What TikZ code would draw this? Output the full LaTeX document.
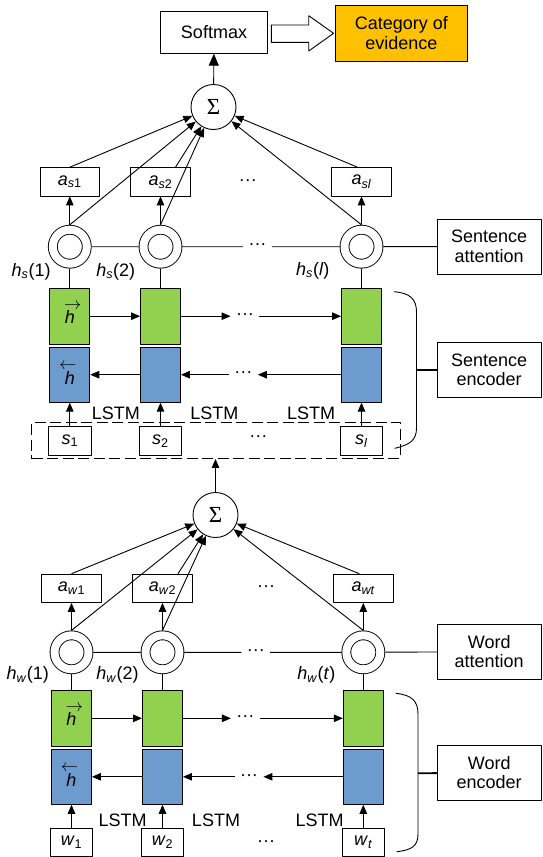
\documentclass[tikz,border=0pt]{standalone}
\usepackage{fontspec}
\setmainfont{Liberation Sans}
\newfontfamily\sumfont{Liberation Serif}
\usetikzlibrary{arrows.meta}
\definecolor{fwdgreen}{RGB}{146,208,80}
\definecolor{bwdblue}{RGB}{110,155,206}
\definecolor{catorange}{RGB}{255,192,0}
\newcommand{\threedots}{\textperiodcentered\textperiodcentered\textperiodcentered}
\newcommand{\fwdh}{\makebox[0pt]{\hspace{6pt}$\rightarrow$}\\[-5pt]\textit{h}}
\newcommand{\bwdh}{\makebox[0pt]{$\leftarrow$\hspace{4pt}}\\[-5pt]\textit{h}}

\begin{document}
\begin{tikzpicture}[x=1pt, y=-1pt, line width=0.9pt, line join=round,
  >={Triangle[length=9pt,width=7.5pt]},
  font=\fontsize{18}{19.5}\selectfont,
  txtbox/.style={draw, align=center, inner sep=0pt, minimum width=104pt, minimum height=55pt},
  abox/.style={draw, inner sep=0pt, minimum width=59.5pt, minimum height=28.3pt},
  inbox/.style={draw, inner sep=0pt, minimum width=42.5pt, minimum height=28.3pt},
  fwdcell/.style={draw, fill=fwdgreen, inner sep=0pt, minimum width=40pt, minimum height=55.5pt, align=center, text depth=6pt},
  bwdcell/.style={draw, fill=bwdblue, inner sep=0pt, minimum width=40pt, minimum height=55pt, align=center, text depth=2pt},
  attn/.style={circle, draw, double, double distance=8pt, inner sep=0pt, minimum size=34pt, outer sep=4.9pt},
  sumnode/.style={circle, draw, inner sep=0pt, minimum size=45pt, font=\sumfont\fontsize{23}{23}\selectfont},
  gap/.style={inner xsep=5pt, inner ysep=0pt, text height=0.64em, text depth=0pt}]

\useasboundingbox (0,0) rectangle (542,857);

% output
\node[draw, inner sep=0pt, minimum width=106.5pt, minimum height=41.5pt] (soft) at (214,32.5) {Softmax};
\node[draw, fill=catorange, align=center, inner sep=0pt, minimum width=132pt, minimum height=55.3pt] (cat) at (401.3,33.3) {Category of\\evidence};
\draw (271.3,25) -- (308.7,25) -- (308.7,15.7) -- (333.6,33.3) -- (308.7,51) -- (308.7,42.3) -- (271.3,42.3) -- cycle;

% sentence level
\node[sumnode] (sig1) at (213.5,107) {Σ};
\draw[-{Triangle[length=12pt,width=10pt]}] (sig1) -- (soft);

\node[abox] (as1) at (69.8,181.8) {\textit{a}\textsubscript{\textit{s}1}};
\node[abox] (as2) at (160.5,181.8) {\textit{a}\textsubscript{\textit{s}2}};
\node[gap] (asd) at (247.8,181.8) {\threedots};
\node[abox] (asl) at (361.5,181.8) {\textit{a}\textsubscript{\textit{sl}}};

\node[attn] (hs1) at (69.8,246.7) {};
\node[attn] (hs2) at (160.5,246.7) {};
\node[gap] (hsd) at (257.5,246.7) {\threedots};
\node[attn] (hsl) at (361.5,246.7) {};
\node[txtbox] (satt) at (489.2,246.5) {Sentence\\attention};
\draw (hs1) -- (hs2) -- (hsd) -- (hsl) -- (satt);

\draw[->] (hs1.north) -- (as1);
\draw[->] (hs2.north) -- (as2);
\draw[->] (hsl.north) -- (asl);
\draw[->] (as1.north) -- (sig1);
\draw[->] ([xshift=15pt]as2.north) -- (sig1);
\draw[->] ([xshift=-4pt]asl.north) -- (sig1);
\draw[->] (hs1.north) -- (sig1);
\draw[->] (hs2.north) -- (sig1);
\draw[->] (hsl.north) -- (sig1);

\node (ths1) at (31.1,271.7) {\textit{h}\textsubscript{\textit{s}}(1)};
\node (ths2) at (115.8,271.7) {\textit{h}\textsubscript{\textit{s}}(2)};
\node (thsl) at (312.8,270.7) {\textit{h}\textsubscript{\textit{s}}(\textit{l})};

\node[fwdcell] (fs1) at (69.8,316.2) {\fwdh};
\node[fwdcell] (fs2) at (160.5,316.2) {};
\node[gap] (fsd) at (245,316.2) {\threedots};
\node[fwdcell] (fsl) at (361.5,316.2) {};
\node[bwdcell] (bs1) at (69.8,374.7) {\bwdh};
\node[bwdcell] (bs2) at (160.5,374.7) {};
\node[gap] (bsd) at (243.4,374.7) {\threedots};
\node[bwdcell] (bsl) at (361.5,374.7) {};

\draw (hs1) -- (fs1);
\draw (hs2) -- (fs2);
\draw (hsl) -- (fsl);
\draw[->] (fs1) -- (fs2);
\draw[->] (fs2) -- (fsd);
\draw[->] (fsd) -- (fsl);
\draw[->] (bsl) -- (bsd);
\draw[->] (bsd) -- (bs2);
\draw[->] (bs2) -- (bs1);

\node (lstms1) at (115.8,413.3) {LSTM};
\node (lstms2) at (214.3,413.3) {LSTM};
\node (lstms3) at (311.1,413.3) {LSTM};

\node[draw, dash pattern=on 11pt off 4.5pt, inner sep=0pt, minimum width=368.7pt, minimum height=36pt] (sents) at (216.1,440.5) {};
\node[inbox] (s1) at (69.8,440.8) {\textit{s}\textsubscript{1}};
\node[inbox] (s2) at (160.5,440.8) {\textit{s}\textsubscript{2}};
\node[gap] (sd) at (258.4,438.3) {\threedots};
\node[inbox] (sl) at (361.5,440.8) {\textit{s}\textsubscript{\textit{l}}};
\draw[->] (s1) -- (bs1);
\draw[->] (s2) -- (bs2);
\draw[->] (sl) -- (bsl);

% sentence encoder brace
\draw (394,291.7) .. controls (410,293) and (416.5,299) .. (416.5,312) -- (416.5,428) .. controls (416.5,440) and (410,445) .. (394.5,448.3);
\coordinate (sbrace) at (416.5,370);
\node[txtbox] (senc) at (489.2,370) {Sentence\\encoder};
\draw[line width=1.8pt] (sbrace) -- (senc);

% word level
\node[sumnode] (sig2) at (215.5,515) {Σ};
\draw[->] (sig2) -- (sig2 |- sents.south);

\node[abox] (aw1) at (71.5,588.3) {\textit{a}\textsubscript{\textit{w}1}};
\node[abox] (aw2) at (162.5,588.3) {\textit{a}\textsubscript{\textit{w}2}};
\node[gap] (awd) at (266.2,588.3) {\threedots};
\node[abox] (awt) at (363.3,588.3) {\textit{a}\textsubscript{\textit{wt}}};

\node[attn] (hw1) at (71.5,652.3) {};
\node[attn] (hw2) at (162.5,652.3) {};
\node[gap] (hwd) at (255.8,652.3) {\threedots};
\node[attn] (hwt) at (363.3,652.3) {};
\node[txtbox] (watt) at (489.2,651.7) {Word\\attention};
\draw (hw1) -- (hw2) -- (hwd) -- (hwt) -- (watt);

\draw[->] (hw1.north) -- (aw1);
\draw[->] (hw2.north) -- (aw2);
\draw[->] (hwt.north) -- (awt);
\draw[->] (aw1.north) -- (sig2);
\draw[->] ([xshift=15.5pt]aw2.north) -- (sig2);
\draw[->] ([xshift=-4pt]awt.north) -- (sig2);
\draw[->] (hw1.north) -- (sig2);
\draw[->] (hw2.north) -- (sig2);
\draw[->] (hwt.north) -- (sig2);

\node (thw1) at (27.7,675) {\textit{h}\textsubscript{\textit{w}}(1)};
\node (thw2) at (117.5,675) {\textit{h}\textsubscript{\textit{w}}(2)};
\node (thwt) at (316.3,675) {\textit{h}\textsubscript{\textit{w}}(\textit{t})};

\node[fwdcell] (fw1) at (71.5,718.3) {\fwdh};
\node[fwdcell] (fw2) at (162.5,718.3) {};
\node[gap] (fwd) at (245.4,718.3) {\threedots};
\node[fwdcell] (fwt) at (363.3,718.3) {};
\node[bwdcell] (bw1) at (71.5,776.8) {\bwdh};
\node[bwdcell] (bw2) at (162.5,776.8) {};
\node[gap] (bwd) at (249,776.8) {\threedots};
\node[bwdcell] (bwt) at (363.3,776.8) {};

\draw (hw1) -- (fw1);
\draw (hw2) -- (fw2);
\draw (hwt) -- (fwt);
\draw[->] (fw1) -- (fw2);
\draw[->] (fw2) -- (fwd);
\draw[->] (fwd) -- (fwt);
\draw[->] (bwt) -- (bwd);
\draw[->] (bwd) -- (bw2);
\draw[->] (bw2) -- (bw1);

\node (lstmw1) at (122.7,820) {LSTM};
\node (lstmw2) at (216,820) {LSTM};
\node (lstmw3) at (319.7,820) {LSTM};

\node[inbox] (w1) at (71.5,842.5) {\textit{w}\textsubscript{1}};
\node[inbox] (w2) at (162.5,842.5) {\textit{w}\textsubscript{2}};
\node[gap] (wd) at (266.2,843) {\threedots};
\node[inbox] (wt) at (363.3,842.5) {\textit{w}\textsubscript{\textit{t}}};
\draw[->] (w1) -- (bw1);
\draw[->] (w2) -- (bw2);
\draw[->] (wt) -- (bwt);

% word encoder brace
\draw (395.8,693.3) .. controls (412,695) and (418,701) .. (418,714) -- (418,834) .. controls (418,846) and (412,850) .. (396.7,851.7);
\coordinate (wbrace) at (418,773.3);
\node[txtbox] (wenc) at (489.2,772.5) {Word\\encoder};
\draw[line width=1.8pt] (wbrace) -- (wenc);
\end{tikzpicture}
\end{document}
